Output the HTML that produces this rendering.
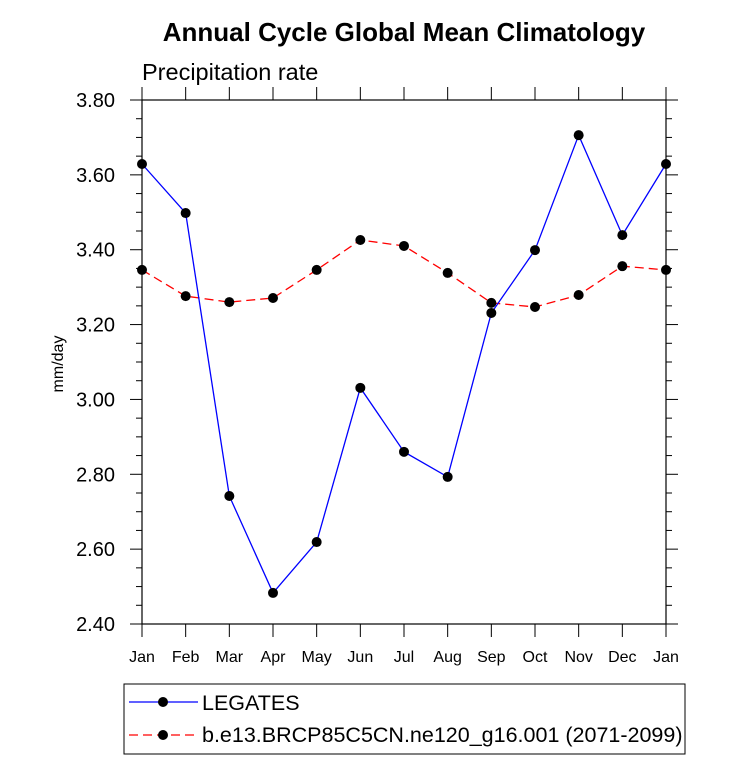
<!DOCTYPE html>
<html><head><meta charset="utf-8"><style>body{margin:0;background:#fff}svg{display:block;font-family:"Liberation Sans",sans-serif}</style></head>
<body>
<svg id="c" width="733" height="759" viewBox="0 0 733 759">
<text x="404" y="41" text-anchor="middle" font-size="26" font-weight="bold">Annual Cycle Global Mean Climatology</text>
<text x="142" y="80" font-size="23.5">Precipitation rate</text>
<text transform="translate(63,364) rotate(-90)" text-anchor="middle" font-size="16">mm/day</text>
<g id="ax"></g>
<g id="marks"></g>
<rect x="124" y="684" width="561" height="70" fill="none" stroke="#000" stroke-width="1"/>
<g>
<line x1="129" y1="702" x2="198" y2="702" stroke="#00f" stroke-width="1.3"/><circle cx="163" cy="702" r="5" fill="#000"/>
<text x="202" y="710" font-size="21.5">LEGATES</text></g>
<g>
<line x1="129" y1="735" x2="198" y2="735" stroke="#f00" stroke-width="1.3" stroke-dasharray="9,5"/><circle cx="163" cy="735" r="5" fill="#000"/>
<text x="202" y="742" font-size="21.5">b.e13.BRCP85C5CN.ne120_g16.001 (2071-2099)</text></g>
</svg>
<script>
const months=["Jan","Feb","Mar","Apr","May","Jun","Jul","Aug","Sep","Oct","Nov","Dec","Jan"];
const legates=[3.629,3.498,2.742,2.483,2.619,3.031,2.860,2.793,3.231,3.399,3.706,3.439,3.629];
const model=[3.346,3.276,3.260,3.271,3.346,3.426,3.410,3.338,3.258,3.247,3.279,3.356,3.346];
const yTicks=["2.40","2.60","2.80","3.00","3.20","3.40","3.60","3.80"];
const NS="http://www.w3.org/2000/svg";
const L=142,R=666,T=100,B=624,ymin=2.4,ymax=3.8;
const xs=i=>L+(R-L)*i/(months.length-1);
const ys=v=>B-(v-ymin)/(ymax-ymin)*(B-T);
function mk(tag,at,p){const e=document.createElementNS(NS,tag);for(const k in at)e.setAttribute(k,at[k]);p.appendChild(e);return e;}
const ax=document.getElementById('ax'),mg=document.getElementById('marks');
const fr=mk('rect',{x:L,y:T,width:R-L,height:B-T,fill:'none',stroke:'#000','stroke-width':1.2},ax);


months.forEach((m,i)=>{const x=xs(i);
mk('line',{x1:x,y1:B,x2:x,y2:B+13,stroke:'#000'},ax);
mk('line',{x1:x,y1:T,x2:x,y2:T-13,stroke:'#000'},ax);
const t=mk('text',{x:x,y:B+14+24,'text-anchor':'middle','font-size':16},ax);t.textContent=m;

});
for(let v=ymin;v<=ymax+1e-9;v+=0.05){const y=ys(v);const maj=Math.abs(Math.round(v*5)-v*5)<1e-6;const len=maj?12:6;
mk('line',{x1:L,y1:y,x2:L-len,y2:y,stroke:'#000'},ax);mk('line',{x1:R,y1:y,x2:R+len,y2:y,stroke:'#000'},ax);}
yTicks.forEach(s=>{const y=ys(parseFloat(s));const t=mk('text',{x:L-27,y:y+7,'text-anchor':'end','font-size':20},ax);t.textContent=s;

});
function series(d,col,dash,name){const p=mk('polyline',{points:d.map((v,i)=>xs(i)+','+ys(v)).join(' '),fill:'none',stroke:col,'stroke-width':1.3,'stroke-dasharray':dash},mg);


d.forEach((v,i)=>{const c=mk('circle',{cx:xs(i),cy:ys(v),r:5,fill:'#000'},mg);

});}
series(model,'#f00','9,5','model');
series(legates,'#00f','none','legates');
</script>
</body></html>
